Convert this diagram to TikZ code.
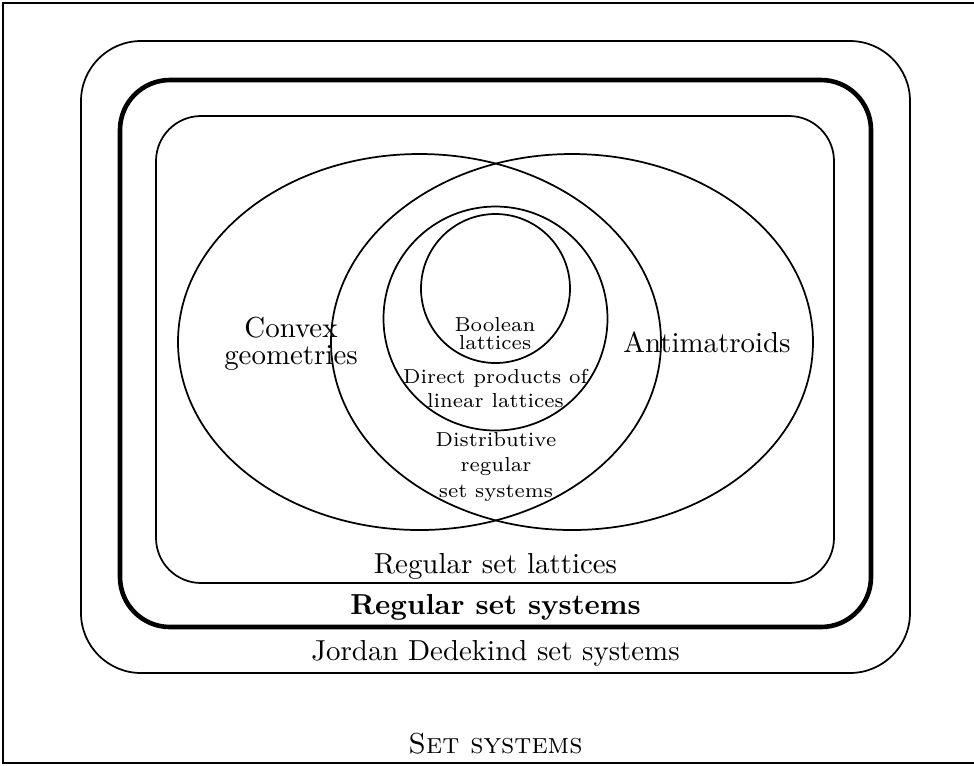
\documentclass[tikz,border=0pt]{standalone}
\begin{document}
\begin{tikzpicture}[x=0.346pt, y=-0.346pt, semithick,
  lbl/.style={align=center},
  small/.style={align=center, font=\scriptsize}]
\useasboundingbox (0,0) rectangle (974,765);
% frame, open on the right
\draw (974,3) -- (3,3) -- (3,763) -- (974,763);
% nested classes
\draw[rounded corners=20.8pt] (81,41) rectangle (910,673);
\draw[ultra thick, rounded corners=17.3pt] (120,80) rectangle (871,627);
\draw[rounded corners=15.6pt] (156,116) rectangle (834,583);
\draw (419.5,342) ellipse [x radius=241.5, y radius=188];
\draw (572,342) ellipse [x radius=241, y radius=188];
\draw (495.5,318.5) circle [radius=112];
\draw (495.5,288.5) circle [radius=74.5];
% labels
\node[lbl] (convex) at (291,344) {Convex\\[-2.7pt]geometries};
\node[lbl, anchor=base] (anti) at (707,352) {Antimatroids};
\node[small] (bool) at (495,334) {Boolean\\[-1.8pt]lattices};
\node[small] (direct) at (495.5,388.5) {Direct products of\\linear lattices};
\node[small] (distr) at (496,467) {Distributive\\[0.7pt]regular\\[0.7pt]set systems};
\node[lbl, anchor=base] (lattices) at (495.5,573) {Regular set lattices};
\node[lbl, anchor=base] (regular) at (495.5,614) {\textbf{Regular set systems}};
\node[lbl, anchor=base] (jordan) at (495.5,660) {Jordan Dedekind set systems};
\node[lbl, anchor=base] (setsys) at (495.5,753) {\textsc{Set systems}};
\end{tikzpicture}
\end{document}
